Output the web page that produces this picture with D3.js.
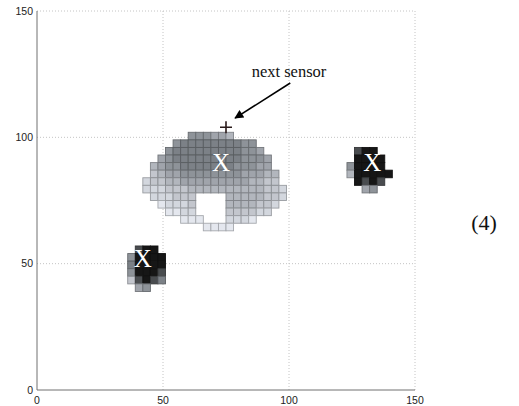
<!DOCTYPE html>
<html>
<head>
<meta charset="utf-8">
<script src="https://cdn.jsdelivr.net/npm/d3@7"></script>
<style>
  html, body { margin: 0; padding: 0; background: #fff; }
  svg { display: block; }
</style>
</head>
<body>
<svg id="chart" width="519" height="406"></svg>
<script>
// Axis ticks
const xTicks = [0, 50, 100, 150];
const yTicks = [0, 50, 100, 150];

// Grid cell size (map units)
const cellSize = 3;

// Likelihood maps, one string per row (top row first); digits 1-9 = intensity, '.' = empty.
const bigBlobRows = [
  "......666554.......",
  "....67777777766....",
  "...6777777777665...",
  "..567777777776665..",
  ".4566777777766655..",
  ".34556666666655544.",
  "233445555555554433.",
  "2223334444444444332",
  ".222333....44444332",
  "..12223....4444332.",
  "...1122....333322..",
  ".....111...2221....",
  "........1111......."
];
const rightBlobRows = [
  "..899...",
  "..9999..",
  ".69999..",
  ".499999.",
  "..9898..",
  "...56..."
];
const leftBlobRows = [
  ".899.",
  "69999",
  "79999",
  "69998",
  "38987",
  ".56.."
];
// [left edge u, bottom edge v of the top row]
const blobOrigins = [[42, 99], [120, 93], [36, 54]];
const blobRowSets = [bigBlobRows, rightBlobRows, leftBlobRows];

// Estimated source locations
const sources = [[73, 90], [133, 90], [42, 52]];
// Next sensor location and its annotation
const nextSensor = [75, 104];
const arrowFrom = [100.5, 121.5];
const arrowTo = [78.6, 107.6];
const annotationText = "next sensor";
const annotationPos = [100, 126];
const equationLabel = "(4)";

const svg = d3.select("#chart");
const x = d3.scaleLinear().domain([0, 150]).range([37, 415]);
const y = d3.scaleLinear().domain([0, 150]).range([390, 11]);

const shade = d3.scaleLinear()
  .domain([1, 4, 7, 9])
  .range(["#e4e7ee", "#b2b6bd", "#7c8187", "#161616"]);

// Dotted grid
const grid = svg.append("g");
grid.selectAll("line.gx").data(xTicks.filter(d => d > 0)).join("line")
  .attr("x1", d => x(d)).attr("x2", d => x(d))
  .attr("y1", y(0)).attr("y2", y(150))
  .attr("stroke", "#c4c4c4").attr("stroke-width", 1).attr("stroke-dasharray", "1,2");
grid.selectAll("line.gy").data(yTicks.filter(d => d > 0)).join("line")
  .attr("y1", d => y(d)).attr("y2", d => y(d))
  .attr("x1", x(0)).attr("x2", x(150))
  .attr("stroke", "#c4c4c4").attr("stroke-width", 1).attr("stroke-dasharray", "1,2");

// Cells
const cells = [];
blobRowSets.forEach((rows, bi) => {
  const [u0, vTop] = blobOrigins[bi];
  rows.forEach((row, r) => {
    [...row].forEach((ch, c) => {
      if (ch !== ".") cells.push({ u: u0 + c * cellSize, v: vTop - r * cellSize, level: +ch });
    });
  });
});

svg.append("g").selectAll("rect").data(cells).join("rect")
  .attr("x", d => x(d.u))
  .attr("y", d => y(d.v + cellSize))
  .attr("width", d => x(d.u + cellSize) - x(d.u))
  .attr("height", d => y(d.v) - y(d.v + cellSize))
  .attr("fill", d => shade(d.level))
  .attr("stroke", d => d3.color(shade(d.level)).darker(0.9))
  .attr("stroke-width", 0.9);

// Source markers
svg.append("g").selectAll("text").data(sources).join("text")
  .attr("x", d => x(d[0]))
  .attr("y", d => y(d[1]))
  .attr("dy", "0.35em")
  .attr("text-anchor", "middle")
  .attr("font-family", "'Liberation Serif', 'Times New Roman', serif")
  .attr("font-size", 25)
  .attr("fill", "#fff")
  .text("X");

// Axes lines
svg.append("line").attr("x1", x(0)).attr("x2", x(0)).attr("y1", y(0)).attr("y2", y(150))
  .attr("stroke", "#707070").attr("stroke-width", 1);
svg.append("line").attr("x1", x(0)).attr("x2", x(150)).attr("y1", y(0)).attr("y2", y(0))
  .attr("stroke", "#707070").attr("stroke-width", 1);

// Tick labels
const tickFont = "'Liberation Sans', Arial, sans-serif";
svg.append("g").selectAll("text").data(yTicks).join("text")
  .attr("x", x(0) - 4).attr("y", d => y(d)).attr("dy", "0.35em")
  .attr("text-anchor", "end").attr("font-family", tickFont).attr("font-size", 10.5)
  .attr("fill", "#222").text(d => d);
svg.append("g").selectAll("text").data(xTicks).join("text")
  .attr("x", d => x(d)).attr("y", y(0) + 10).attr("dy", "0.35em")
  .attr("text-anchor", "middle").attr("font-family", tickFont).attr("font-size", 10.5)
  .attr("fill", "#222").text(d => d);

// Next sensor marker
const px = x(nextSensor[0]), py = y(nextSensor[1]);
svg.append("path")
  .attr("d", `M${px - 6},${py}H${px + 6}M${px},${py - 6}V${py + 6}`)
  .attr("stroke", "#2a1a1a").attr("stroke-width", 1.6);

// Annotation arrow
const defs = svg.append("defs");
defs.append("marker").attr("id", "head")
  .attr("viewBox", "0 0 10 10").attr("refX", 9).attr("refY", 5)
  .attr("markerWidth", 11).attr("markerHeight", 9).attr("markerUnits", "userSpaceOnUse")
  .attr("orient", "auto")
  .append("path").attr("d", "M0,0L10,5L0,10Z").attr("fill", "#000");
svg.append("line")
  .attr("x1", x(arrowFrom[0])).attr("y1", y(arrowFrom[1]))
  .attr("x2", x(arrowTo[0])).attr("y2", y(arrowTo[1]))
  .attr("stroke", "#000").attr("stroke-width", 1.6)
  .attr("marker-end", "url(#head)");
svg.append("text")
  .attr("x", x(annotationPos[0])).attr("y", y(annotationPos[1]))
  .attr("dy", "0.35em").attr("text-anchor", "middle")
  .attr("font-family", "'Liberation Serif', 'Times New Roman', serif")
  .attr("font-size", 16.5).attr("fill", "#111")
  .text(annotationText);

// Equation number
svg.append("text")
  .attr("x", 484).attr("y", 222).attr("dy", "0.35em").attr("text-anchor", "middle")
  .attr("font-family", "'Liberation Serif', 'Times New Roman', serif")
  .attr("font-size", 22).attr("fill", "#111")
  .text(equationLabel);
</script>
</body>
</html>
